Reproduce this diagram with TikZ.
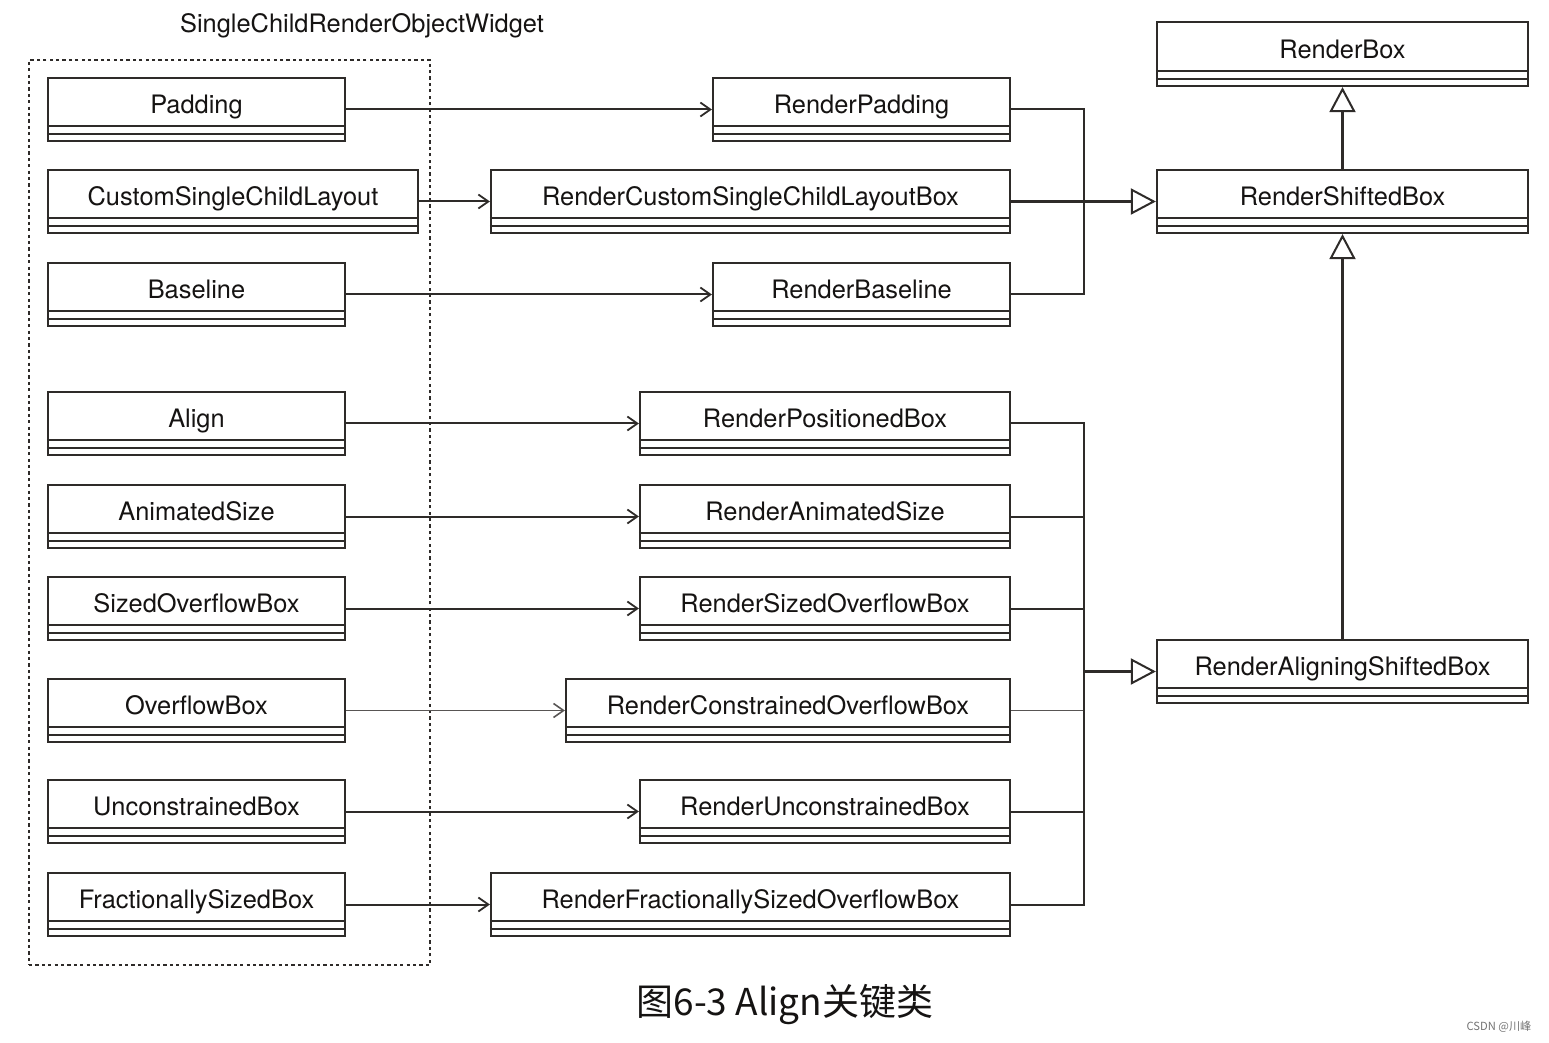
\documentclass[tikz,border=0pt]{standalone}
\usepackage{fontspec}
\setmainfont{TeX Gyre Heros}
\newfontfamily\cjkfont{Noto Sans CJK SC}
\usetikzlibrary{arrows.meta}
\definecolor{ln}{HTML}{2E2B29}
\definecolor{tx}{HTML}{151312}
\newcommand\umlbox[6]{%
  \node[boxsty, minimum width=#4, minimum height=#5] (#1) at (#2,#3) {};
  \draw[sepsty] ([yshift=8pt]#1.south west) -- ([yshift=8pt]#1.south east);
  \draw[sepsty] ([yshift=4pt]#1.south west) -- ([yshift=4pt]#1.south east);
  \node[labsty] (#1-t) at ([yshift=2.3pt]#1.center) {#6};
}
\begin{document}
\begin{tikzpicture}[x=0.5pt,y=-0.5pt,
  boxsty/.style={draw=ln, line width=1.1pt, fill=white, inner sep=0pt},
  sepsty/.style={draw=ln, line width=0.8pt},
  labsty/.style={font=\fontsize{12.7pt}{14pt}\selectfont, text=tx, text height=9pt, text depth=0pt, inner sep=0pt},
  conn/.style={draw=ln, line width=1pt, -{Straight Barb[length=5pt,width=7pt,line width=0.9pt]}},
  thinconn/.style={draw=ln!80, line width=0.55pt, -{Straight Barb[length=5pt,width=7pt,line width=0.8pt]}},
  bus/.style={draw=ln, line width=1pt},
  inh/.style={draw=ln, line width=1.1pt, -{Triangle[open, length=12.5pt, width=13pt, line width=1pt, fill=white]}}
]
\useasboundingbox (0,0) rectangle (1549,1043);

% group frame
\node[draw=ln, line width=1.1pt, dash pattern=on 1.6pt off 1.6pt, minimum width=200.5pt, minimum height=452.5pt, inner sep=0pt] (grp) at (229.5,512.5) {};
\node[labsty] (grp-t) at (362,24) {SingleChildRenderObjectWidget};

% left column
\umlbox{pad}{196.5}{109.5}{148.5pt}{31.5pt}{Padding}
\umlbox{csl}{233}{201.5}{185pt}{31.5pt}{CustomSingleChildLayout}
\umlbox{bas}{196.5}{294.5}{148.5pt}{31.5pt}{Baseline}
\umlbox{ali}{196.5}{423.5}{148.5pt}{31.5pt}{Align}
\umlbox{ans}{196.5}{516.5}{148.5pt}{31.5pt}{AnimatedSize}
\umlbox{sob}{196.5}{608.5}{148.5pt}{31.5pt}{SizedOverflowBox}
\umlbox{ovb}{196.5}{710.5}{148.5pt}{31.5pt}{OverflowBox}
\umlbox{ucb}{196.5}{811.5}{148.5pt}{31.5pt}{UnconstrainedBox}
\umlbox{fsb}{196.5}{904.5}{148.5pt}{31.5pt}{FractionallySizedBox}

% middle column
\umlbox{rpad}{861.5}{109.5}{148.5pt}{31.5pt}{RenderPadding}
\umlbox{rcsl}{750.5}{201.5}{259.5pt}{31.5pt}{RenderCustomSingleChildLayoutBox}
\umlbox{rbas}{861.5}{294.5}{148.5pt}{31.5pt}{RenderBaseline}
\umlbox{rpos}{825}{423.5}{185pt}{31.5pt}{RenderPositionedBox}
\umlbox{rans}{825}{516.5}{185pt}{31.5pt}{RenderAnimatedSize}
\umlbox{rsob}{825}{608.5}{185pt}{31.5pt}{RenderSizedOverflowBox}
\umlbox{rcob}{788}{710.5}{222pt}{31.5pt}{RenderConstrainedOverflowBox}
\umlbox{rucb}{825}{811.5}{185pt}{31.5pt}{RenderUnconstrainedBox}
\umlbox{rfsb}{750.5}{904.5}{259.5pt}{31.5pt}{RenderFractionallySizedOverflowBox}

% right column
\umlbox{rbox}{1342.5}{54}{185.5pt}{32pt}{RenderBox}
\umlbox{rsb}{1342.5}{201.5}{185.5pt}{31.5pt}{RenderShiftedBox}
\umlbox{rasb}{1342.5}{671.5}{185.5pt}{31.5pt}{RenderAligningShiftedBox}

% widget -> render object
\draw[conn] (pad.east) -- (rpad.west);
\draw[conn] (csl.east) -- (rcsl.west);
\draw[conn] (bas.east) -- (rbas.west);
\draw[conn] (ali.east) -- (rpos.west);
\draw[conn] (ans.east) -- (rans.west);
\draw[conn] (sob.east) -- (rsob.west);
\draw[thinconn] (ovb.east) -- (rcob.west);
\draw[conn] (ucb.east) -- (rucb.west);
\draw[conn] (fsb.east) -- (rfsb.west);

% buses
\coordinate (b1) at (1084,201.5);
\coordinate (b2) at (1084,671.5);
\draw[bus] (rpad.east) -| (b1);
\draw[bus] (rbas.east) -| (b1);
\draw[inh] (rcsl.east) -- (rsb.west);
\draw[bus] (rpos.east) -| (b2);
\draw[bus] (rans.east) -| (b2);
\draw[bus] (rsob.east) -| (b2);
\draw[draw=ln!80, line width=0.55pt] (rcob.east) -| (b2);
\draw[bus] (rucb.east) -| (b2);
\draw[bus] (rfsb.east) -| (b2);
\draw[inh] (b2) -- (rasb.west);

% inheritance vertical
\draw[inh] (rsb.north) -- (rbox.south);
\draw[inh] (rasb.north) -- (rsb.south);

% caption
\node[font=\cjkfont\fontsize{18.5pt}{20pt}\selectfont, text=tx, inner sep=0pt] (cap) at (785,1005) {图6-3 Align关键类};
\node[font=\cjkfont\fontsize{5.6pt}{6pt}\selectfont, text=black!55, inner sep=0pt] (wm) at (1499,1027) {CSDN @川峰};
\end{tikzpicture}
\end{document}
